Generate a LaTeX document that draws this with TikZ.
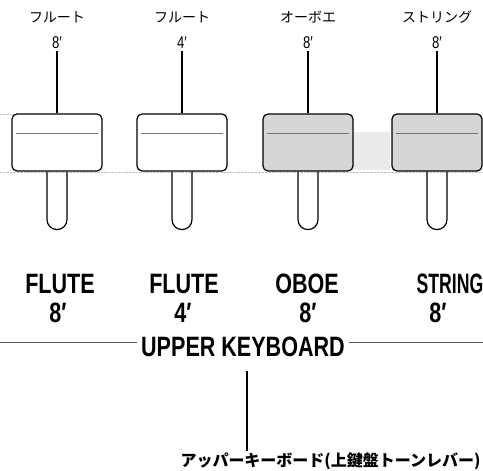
\documentclass[tikz,border=0pt]{standalone}
\usepackage{fontspec}
\setmainfont{Liberation Sans}
\newfontfamily\condfont[FakeStretch=0.77]{Liberation Sans}
\newfontfamily\narrowfont[FakeStretch=0.63]{Liberation Sans}
\newfontfamily\jpfont{Noto Sans CJK JP}
\usepackage{xcolor}

\begin{document}
\begin{tikzpicture}[
    x=1pt, y=-1pt,
    capbox/.style={draw, line width=1.2pt, rounded corners=5pt, minimum width=90pt, minimum height=57pt, inner sep=0pt},
    stembox/.style={draw, line width=1.2pt, rounded corners=10pt},
    markline/.style={draw=black!55, line width=1pt},
    lever/.style={line width=1.8pt},
    jplabel/.style={font=\jpfont\fontsize{14}{16}\selectfont, inner sep=1pt},
    footlabel/.style={font=\condfont\fontsize{17}{18}\selectfont, inner sep=2pt},
    bigname/.style={font=\condfont\bfseries\fontsize{28}{28}\selectfont, inner sep=1pt}
]
\useasboundingbox (0,0) rectangle (483,471);

% Scan shadow behind the levers
\fill[gray!16] (352,132) rectangle (390,170);
\draw[gray!50, densely dotted] (0,172) -- (483,172);
\draw[gray!50, densely dotted] (0,114) -- (40,114);

% Labels on top
\node[jplabel] (jp1) at (57,17) {フルート};
\node[jplabel] (jp2) at (182,17) {フルート};
\node[jplabel] (jp3) at (308,17) {オーボエ};
\node[jplabel] (jp4) at (437,17) {ストリング};
\node[footlabel] (ft1) at (57,43) {8′};
\node[footlabel] (ft2) at (182,43) {4′};
\node[footlabel] (ft3) at (308,43) {8′};
\node[footlabel] (ft4) at (437,43) {8′};

% Lever caps
\node[capbox, fill=white] (cap1) at (57,142.5) {};
\node[capbox, fill=white] (cap2) at (182,142.5) {};
\node[capbox, fill=gray!32] (cap3) at (308,142.5) {};
\node[capbox, fill=gray!32] (cap4) at (437,142.5) {};

% Lines from labels to caps
\draw[lever] (ft1) -- (cap1);
\draw[lever] (ft2) -- (cap2);
\draw[lever] (ft3) -- (cap3);
\draw[lever] (ft4) -- (cap4);

% Marks across the caps
\draw[markline] ([shift={(-41,-9.5)}]cap1.center) -- ([shift={(41,-9.5)}]cap1.center);
\draw[markline] ([shift={(-41,-9.5)}]cap2.center) -- ([shift={(41,-9.5)}]cap2.center);
\draw[markline] ([shift={(-41,-9.5)}]cap3.center) -- ([shift={(41,-9.5)}]cap3.center);
\draw[markline] ([shift={(-41,-9.5)}]cap4.center) -- ([shift={(41,-9.5)}]cap4.center);

% Stems
\draw[stembox] ([xshift=-10pt]cap1.south) -- ++(0,58) -- ++(20,0) -- ++(0,-58);
\draw[stembox] ([xshift=-10pt]cap2.south) -- ++(0,58) -- ++(20,0) -- ++(0,-58);
\draw[stembox] ([xshift=-10pt]cap3.south) -- ++(0,58) -- ++(20,0) -- ++(0,-58);
\draw[stembox] ([xshift=-10pt]cap4.south) -- ++(0,58) -- ++(20,0) -- ++(0,-58);

% Names below
\node[bigname] (nm1) at (60,284) {FLUTE};
\node[bigname] (nm2) at (184,284) {FLUTE};
\node[bigname] (nm3) at (307,284) {OBOE};
\node[bigname, font=\narrowfont\bfseries\fontsize{28}{28}\selectfont] (nm4) at (450,284) {STRING};
\node[bigname] (len1) at (58,313) {8′};
\node[bigname] (len2) at (183,313) {4′};
\node[bigname] (len3) at (308,313) {8′};
\node[bigname] (len4) at (438,313) {8′};

% Keyboard title
\node[bigname, inner sep=4pt] (ukb) at (243,347) {UPPER KEYBOARD};
\coordinate (kl) at (0,342);
\coordinate (kr) at (483,342);
\draw[gray!70!black, line width=0.9pt] (kl) -- (kl -| ukb.west);
\draw[gray!70!black, line width=0.9pt] (ukb.east |- kr) -- (kr);

% Caption below
\node[font=\jpfont\bfseries\fontsize{16}{18}\selectfont, inner sep=1pt] (jpk) at (330.5,461) {アッパーキーボード(上鍵盤トーンレバー)};
\draw[lever] ([xshift=4pt, yshift=-10pt]ukb.south) -- ([xshift=4pt]ukb.south |- jpk.north);

\end{tikzpicture}
\end{document}
